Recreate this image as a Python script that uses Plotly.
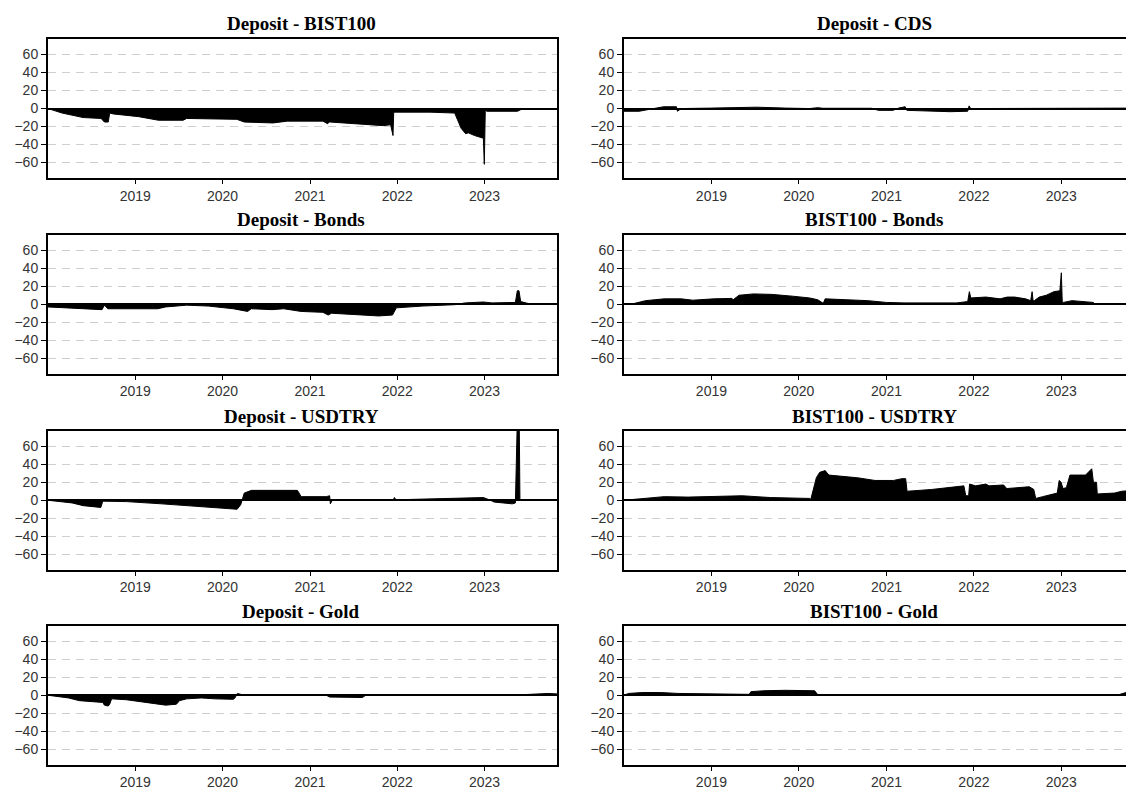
import plotly.graph_objects as go

# ---------------- data ----------------
titles = ["Deposit - BIST100", "Deposit - CDS",
          "Deposit - Bonds", "BIST100 - Bonds",
          "Deposit - USDTRY", "BIST100 - USDTRY",
          "Deposit - Gold", "BIST100 - Gold"]

year_ticks = ["2019-01-01", "2020-01-01", "2021-01-01", "2022-01-01", "2023-01-01"]
year_labels = ["2019", "2020", "2021", "2022", "2023"]
y_ticks = [-60, -40, -20, 0, 20, 40, 60]

# Deposit - BIST100
d1 = ['2018-01-01','2018-03-01','2018-05-28','2018-08-11','2018-08-25','2018-09-10','2018-09-16','2018-10-01',
      '2019-01-15','2019-04-08','2019-07-20','2019-08-04','2020-03-01','2020-04-01','2020-07-30','2020-09-28',
      '2021-02-24','2021-03-16','2021-03-20','2021-03-26','2021-11-03','2021-12-04','2021-12-14','2021-12-17',
      '2021-12-27','2022-05-18','2022-08-29','2022-09-13','2022-09-25','2022-10-14','2022-10-25','2022-11-20',
      '2022-12-27','2022-12-31','2023-01-04','2023-01-11','2023-05-19','2023-06-03','2023-10-31']
v1 = [0, -5, -10, -11, -15, -15, -5, -6, -9, -13,
      -13, -11, -12, -15, -16, -14, -14, -17, -15, -15,
      -19, -18, -30, -4, -4, -4, -5, -15, -22, -28,
      -27, -30, -33, -62, -2, -3, -3, -1, -1]

# Deposit - CDS
d2 = ['2018-01-01','2018-03-05','2018-06-15','2018-07-30','2018-08-08','2018-08-12','2018-08-28','2019-01-01',
      '2019-07-08','2019-11-05','2020-02-15','2020-03-20','2020-04-10','2020-10-30','2020-11-28','2021-01-28',
      '2021-02-20','2021-03-20','2021-03-27','2021-09-24','2021-12-06','2021-12-12','2021-12-18','2023-10-31']
v2 = [-3, -3, 2, 2, 2, -3, 0, 0.5, 1.5, 0.5,
      0, 1, 0.3, 0.3, -2, -2, 0.5, 2, -2, -3.5,
      -3, 3, 0, 0.5]

# Deposit - Bonds
d3 = ['2018-01-01','2018-03-15','2018-06-28','2018-08-15','2018-08-25','2018-09-08','2019-04-05','2019-05-08',
      '2019-08-04','2019-11-03','2020-02-15','2020-04-15','2020-04-30','2020-07-26','2020-09-13','2020-11-25',
      '2021-02-24','2021-03-18','2021-04-01','2021-09-06','2021-10-15','2021-12-12','2021-12-28','2022-04-16',
      '2022-08-29','2022-10-12','2022-12-27','2023-02-01','2023-05-10','2023-05-18','2023-05-25','2023-06-01',
      '2023-06-25','2023-07-15','2023-10-31']
v3 = [-3, -4, -6, -6, -1, -5, -5, -3, -1, -2,
      -5, -8, -5, -6, -5, -8, -9, -12, -10, -13,
      -13, -12, -4, -2, -0.5, 1.5, 2.5, 1.5, 2, 15,
      15, 3, 1, 0, 0]

# BIST100 - Bonds
d4 = ['2018-01-01','2018-02-15','2018-04-01','2018-06-18','2018-08-28','2018-10-15','2019-01-10','2019-03-28',
      '2019-04-02','2019-04-26','2019-06-25','2019-09-08','2019-12-05','2020-02-15','2020-03-20','2020-04-12',
      '2020-04-20','2020-07-01','2020-10-15','2021-01-01','2021-03-15','2021-10-22','2021-12-06','2021-12-13',
      '2021-12-19','2022-02-20','2022-04-20','2022-05-20','2022-06-20','2022-08-05','2022-08-26','2022-09-01',
      '2022-09-05','2022-09-10','2022-10-01','2022-10-30','2022-12-01','2022-12-26','2023-01-01','2023-01-05',
      '2023-01-09','2023-02-15','2023-04-30','2023-05-15','2023-05-22','2023-10-31']
v4 = [0, 1, 4, 6, 6, 4.5, 6, 6.5, 5, 10,
      11.5, 11, 9, 7, 5, 1, 6, 5, 4, 2,
      1.5, 1.5, 3, 14, 7, 8, 6, 8, 8, 6,
      4, 14, 4, 4, 8, 10, 14, 15, 35, 1,
      2, 4, 3, 2, 0, 0]

# Deposit - USDTRY
d5 = ['2018-01-01','2018-04-12','2018-05-28','2018-07-28','2018-08-10','2018-08-18','2018-11-25','2019-04-22',
      '2019-08-04','2019-12-01','2020-03-02','2020-03-17','2020-04-01','2020-05-01','2020-08-15','2020-11-09',
      '2020-11-14','2020-11-25','2021-03-10','2021-03-24','2021-03-27','2021-04-05','2021-12-15','2021-12-20',
      '2021-12-26','2022-10-12','2022-12-27','2023-01-26','2023-02-10','2023-03-20','2023-04-27','2023-05-10',
      '2023-05-14','2023-05-18','2023-05-26','2023-05-29','2023-10-31']
v5 = [0, -3, -6, -7, -8, -1, -1.5, -4, -6, -8,
      -10, -5, 8, 11, 11, 11, 9, 4, 4, 5,
      -4, 0.5, 0.5, 3, 0.5, 2, 3, 0, -2, -3,
      -4, -3, 37, 90, 90, 0, 0]

# BIST100 - USDTRY
d6 = ['2018-01-01','2018-03-18','2018-06-18','2018-09-26','2019-01-10','2019-05-10','2019-09-05','2019-12-20',
      '2020-02-15','2020-02-20','2020-03-14','2020-03-28','2020-04-20','2020-05-05','2020-09-02','2020-11-14',
      '2021-01-30','2021-03-07','2021-03-22','2021-03-28','2021-07-09','2021-11-20','2021-11-28','2021-12-10',
      '2021-12-14','2022-01-08','2022-02-20','2022-03-05','2022-05-05','2022-05-18','2022-08-05','2022-08-20',
      '2022-09-08','2022-09-16','2022-10-15','2022-12-15','2022-12-23','2022-12-31','2023-01-08','2023-01-22',
      '2023-02-06','2023-04-12','2023-05-08','2023-05-15','2023-05-28','2023-05-31','2023-08-11','2023-09-10',
      '2023-10-31']
v6 = [0, 2, 4, 3.5, 4, 5, 3, 2, 2, 1,
      25, 31, 33, 28, 25, 22, 22, 24, 24, 10,
      12, 16, 5, 5, 18, 16, 18, 16, 17, 13,
      14, 15, 12, 2, 4, 8, 22, 20, 13, 14,
      28, 28, 35, 20, 20, 7, 8, 10, 11]

# Deposit - Gold
d7 = ['2018-01-01','2018-03-28','2018-05-12','2018-07-28','2018-08-18','2018-08-25','2018-09-10','2018-09-16',
      '2018-09-24','2018-11-25','2019-02-06','2019-04-06','2019-05-08','2019-06-22','2019-07-05','2019-08-04',
      '2019-10-05','2019-12-01','2020-02-15','2020-02-22','2020-03-03','2020-04-01','2021-03-10','2021-03-24',
      '2021-08-08','2021-08-22','2023-04-15','2023-07-09','2023-09-25','2023-10-31']
v7 = [0, -3, -6, -7, -8, -11, -12, -10, -4, -5,
      -8, -10, -11, -10, -6, -4, -3, -4, -4.5, -3,
      2, 0, 0, -2, -2.5, 0, 0, 1, 2, 1.5]

# BIST100 - Gold
d8 = ['2018-01-01','2018-01-20','2018-03-18','2018-06-03','2018-08-15','2019-01-10','2019-06-08','2019-06-15',
      '2019-08-08','2019-11-05','2020-02-15','2020-03-07','2020-03-22','2023-08-20','2023-09-03','2023-09-28',
      '2023-10-31']
v8 = [0, 2, 3, 3, 2, 1.5, 1, 4, 5, 5.5,
      4.5, 5, 0, 0, 1, 3, 4]

series = [(d1, v1), (d2, v2), (d3, v3), (d4, v4), (d5, v5), (d6, v6), (d7, v7), (d8, v8)]
for d, v in series:
    assert len(d) == len(v), (len(d), len(v))

# ---------------- layout geometry ----------------
W, H = 1126, 790
x_domains = [[48 / W, 557 / W], [624 / W, 1.0]]
x_ranges = [['2018-01-01', '2023-10-31'], ['2018-01-01', '2023-09-28']]
row_tops = [39.3, 235.0, 431.0, 626.0]
box_h = 138.5
title_y = [23, 220, 416, 611]
title_x = [301 / W, 874 / W]

fig = go.Figure()
layout = dict(width=W, height=H, margin=dict(l=0, r=0, t=0, b=0),
              paper_bgcolor='white', plot_bgcolor='white', showlegend=False,
              annotations=[])

tick_font = dict(family="Liberation Sans, Arial, sans-serif", size=14, color="#333333")

for i, (d, v) in enumerate(series):
    row, col = divmod(i, 2)
    k = i + 1
    xa = 'x' if k == 1 else f'x{k}'
    ya = 'y' if k == 1 else f'y{k}'
    fig.add_trace(go.Scatter(x=d, y=v, mode='lines', xaxis=xa, yaxis=ya,
                             line=dict(color='black', width=1),
                             fill='tozeroy', fillcolor='black', hoverinfo='skip'))
    top = row_tops[row]
    ydom = [1 - (top + box_h) / H, 1 - top / H]
    layout['xaxis' if k == 1 else f'xaxis{k}'] = dict(
        type='date', domain=x_domains[col], anchor=ya, range=x_ranges[col],
        tickvals=year_ticks, ticktext=year_labels, ticks='outside', ticklen=4,
        tickcolor='black', tickwidth=1, showline=True, linecolor='black', linewidth=2,
        mirror=True, showgrid=False, zeroline=False, tickfont=tick_font, fixedrange=True)
    layout['yaxis' if k == 1 else f'yaxis{k}'] = dict(
        domain=ydom, anchor=xa, range=[-77, 77], tickvals=y_ticks,
        ticks='outside', ticklen=5, tickcolor='black', tickwidth=1,
        showline=True, linecolor='black', linewidth=2, mirror=(col == 0),
        showgrid=True, gridcolor='#cfcfcf', gridwidth=1, griddash='8px,6px',
        zeroline=True, zerolinecolor='black', zerolinewidth=2,
        tickfont=tick_font, fixedrange=True)
    layout['annotations'].append(dict(
        text=f"<b>{titles[i]}</b>", x=title_x[col], y=1 - title_y[row] / H,
        xref='paper', yref='paper', xanchor='center', yanchor='middle', showarrow=False,
        font=dict(family="Liberation Serif, Times New Roman, serif", size=19, color='black')))

fig.update_layout(**layout)
fig.write_html("out.html",
               config={'displayModeBar': False},
               post_script="document.body.style.margin='0';document.body.style.padding='0';"
                           "document.body.style.overflow='hidden';")
